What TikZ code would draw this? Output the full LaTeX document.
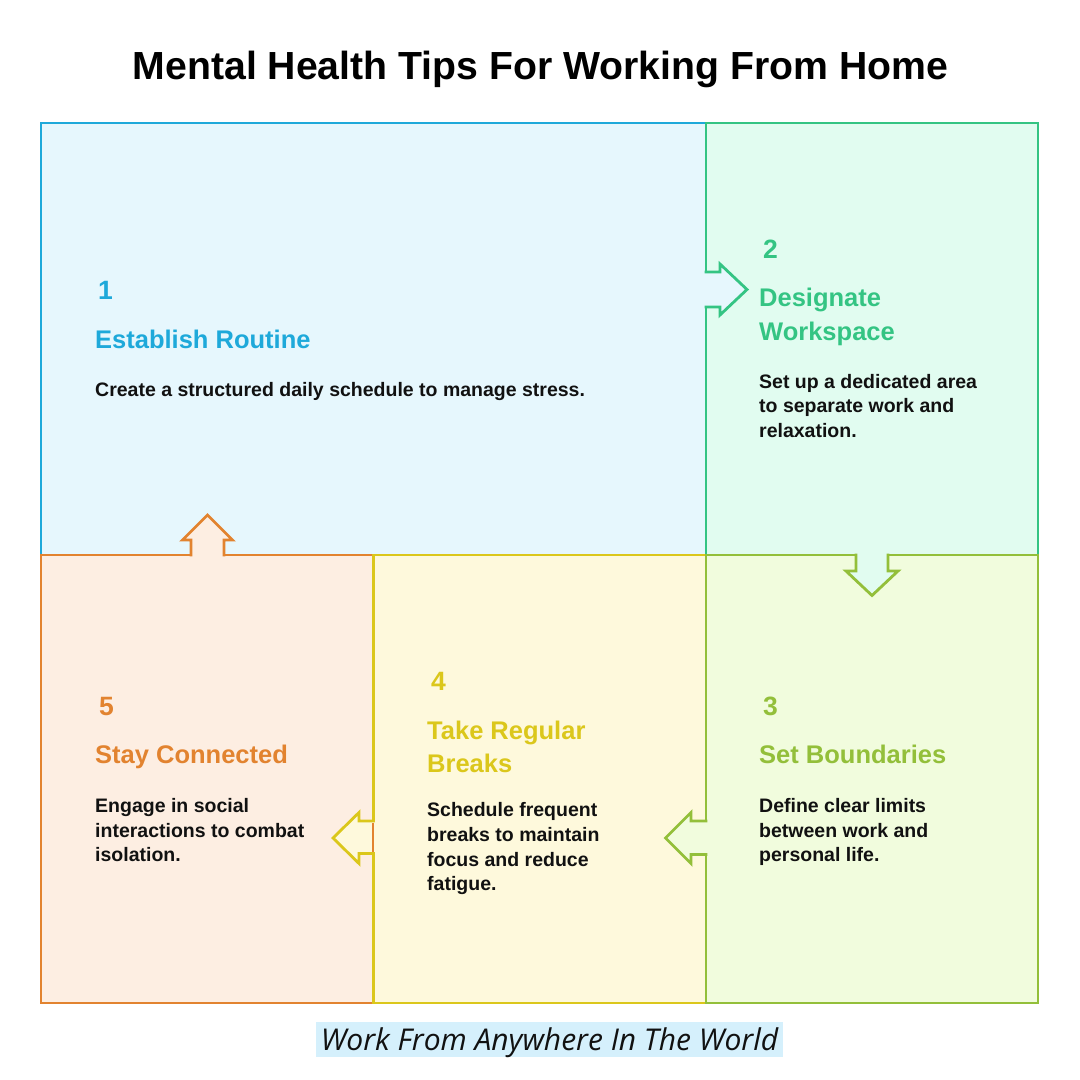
\documentclass[tikz,border=0pt]{standalone}
\usepackage{fontspec}
\setmainfont{Liberation Sans}
\newfontfamily\tagfont{Open Sans}
\definecolor{cblue}{HTML}{1EA9DA}
\definecolor{cgreen}{HTML}{34C483}
\definecolor{cyg}{HTML}{93BF3A}
\definecolor{cyel}{HTML}{DBC71B}
\definecolor{corg}{HTML}{E2832F}
\definecolor{fblue}{HTML}{E6F7FD}
\definecolor{fgreen}{HTML}{E1FCF0}
\definecolor{fyg}{HTML}{F1FCDD}
\definecolor{fyel}{HTML}{FEF9DC}
\definecolor{forg}{HTML}{FDEEE2}
\definecolor{ftag}{HTML}{D5F0FC}
\definecolor{ink}{HTML}{111111}
\tikzset{
  boxline/.style={line width=2.8pt, line join=miter},
  arrline/.style={line width=2.8pt, line join=miter, line cap=rect},
  numtxt/.style={anchor=base west, inner sep=0pt, font=\fontsize{26.5}{26.5}\selectfont\bfseries},
  headtxt/.style={anchor=base west, inner sep=0pt, font=\fontsize{25.5}{25.5}\selectfont\bfseries},
  bodytxt/.style={anchor=base west, inner sep=0pt, text=ink, font=\fontsize{19.5}{19.5}\selectfont\bfseries},
}
\begin{document}
\begin{tikzpicture}[x=1pt,y=-1pt]
\useasboundingbox[fill=white] (0,0) rectangle (1080,1080);
% title
\node[anchor=base, inner sep=0pt, text=black, font=\fontsize{39.2}{39.2}\selectfont\bfseries] (title) at (540.5,79.3) {Mental Health Tips For Working From Home};
% boxes
\draw[boxline, draw=cblue, fill=fblue] (41,123) rectangle (706,555);
\draw[boxline, draw=cgreen, fill=fgreen] (706,123) rectangle (1038,555);
\draw[boxline, draw=corg, fill=forg] (41,555) rectangle (373.5,1003);
\draw[boxline, draw=cyel, fill=fyel] (373.5,555) rectangle (706,1003);
\draw[boxline, draw=cyg, fill=fyg] (706,555) rectangle (1038,1003);
% arrow 1 -> 2
\fill[fblue] (704,272) -- (720,272) -- (720,264) -- (747,289.5) -- (720,315) -- (720,307) -- (704,307) -- cycle;
\draw[arrline, draw=cgreen] (706,272) -- (720,272) -- (720,264) -- (747,289.5) -- (720,315) -- (720,307) -- (706,307);
% arrow 2 -> 3
\fill[fgreen] (856,553) -- (856,571) -- (846,571) -- (872,595.5) -- (898,571) -- (888,571) -- (888,553) -- cycle;
\draw[arrline, draw=cyg] (856,555) -- (856,571) -- (846,571) -- (872,595.5) -- (898,571) -- (888,571) -- (888,555);
% arrow 3 -> 4
\fill[fyg] (708,821) -- (691,821) -- (691,812.5) -- (665.5,838) -- (691,863.5) -- (691,854.5) -- (708,854.5) -- cycle;
\draw[arrline, draw=cyg] (706,821) -- (691,821) -- (691,812.5) -- (665.5,838) -- (691,863.5) -- (691,854.5) -- (706,854.5);
% arrow 4 -> 5
\fill[fyel] (375.5,821) -- (359,821) -- (359,812.5) -- (333,838) -- (359,863.5) -- (359,853.5) -- (375.5,853.5) -- cycle;
\draw[arrline, draw=cyel] (373.5,821) -- (359,821) -- (359,812.5) -- (333,838) -- (359,863.5) -- (359,853.5) -- (373.5,853.5);
\draw[line width=2pt, draw=corg] (373.3,822.5) -- (373.3,852);
% arrow 5 -> 1
\fill[forg] (191,557) -- (191,540) -- (182.5,540) -- (207.5,515) -- (232.5,540) -- (224,540) -- (224,557) -- cycle;
\draw[arrline, draw=corg] (191,555) -- (191,540) -- (182.5,540) -- (207.5,515) -- (232.5,540) -- (224,540) -- (224,555);
% box 1 text
\node[numtxt, text=cblue] (n1) at (98,299.3) {1};
\node[headtxt, text=cblue] (h1) at (95,348.3) {Establish Routine};
\node[bodytxt] (b1) at (95,396) {Create a structured daily schedule to manage stress.};
% box 2 text
\node[numtxt, text=cgreen] (n2) at (763,258.3) {2};
\node[headtxt, text=cgreen] (h2a) at (759,306) {Designate};
\node[headtxt, text=cgreen] (h2b) at (759,340) {Workspace};
\node[bodytxt] (b2a) at (759,388.4) {Set up a dedicated area};
\node[bodytxt] (b2b) at (759,412.8) {to separate work and};
\node[bodytxt] (b2c) at (759,437) {relaxation.};
% box 3 text
\node[numtxt, text=cyg] (n3) at (763,715) {3};
\node[headtxt, text=cyg] (h3) at (759,763) {Set Boundaries};
\node[bodytxt] (b3a) at (759,812.4) {Define clear limits};
\node[bodytxt] (b3b) at (759,837) {between work and};
\node[bodytxt] (b3c) at (759,861.5) {personal life.};
% box 4 text
\node[numtxt, text=cyel] (n4) at (431,690.5) {4};
\node[headtxt, text=cyel] (h4a) at (427,739.5) {Take Regular};
\node[headtxt, text=cyel] (h4b) at (427,772) {Breaks};
\node[bodytxt] (b4a) at (427,816.5) {Schedule frequent};
\node[bodytxt] (b4b) at (427,841.3) {breaks to maintain};
\node[bodytxt] (b4c) at (427,866) {focus and reduce};
\node[bodytxt] (b4d) at (427,890.5) {fatigue.};
% box 5 text
\node[numtxt, text=corg] (n5) at (99,715) {5};
\node[headtxt, text=corg] (h5) at (95,763) {Stay Connected};
\node[bodytxt] (b5a) at (95,812.4) {Engage in social};
\node[bodytxt] (b5b) at (95,837) {interactions to combat};
\node[bodytxt] (b5c) at (95,861.5) {isolation.};
% footer tag
\fill[ftag] (316,1022) rectangle (783,1057);
\node[anchor=base, inner sep=0pt, text=ink, font=\tagfont\itshape\fontsize{30}{30}\selectfont] (tag) at (549.5,1050) {Work From Anywhere In The World};
\end{tikzpicture}
\end{document}
